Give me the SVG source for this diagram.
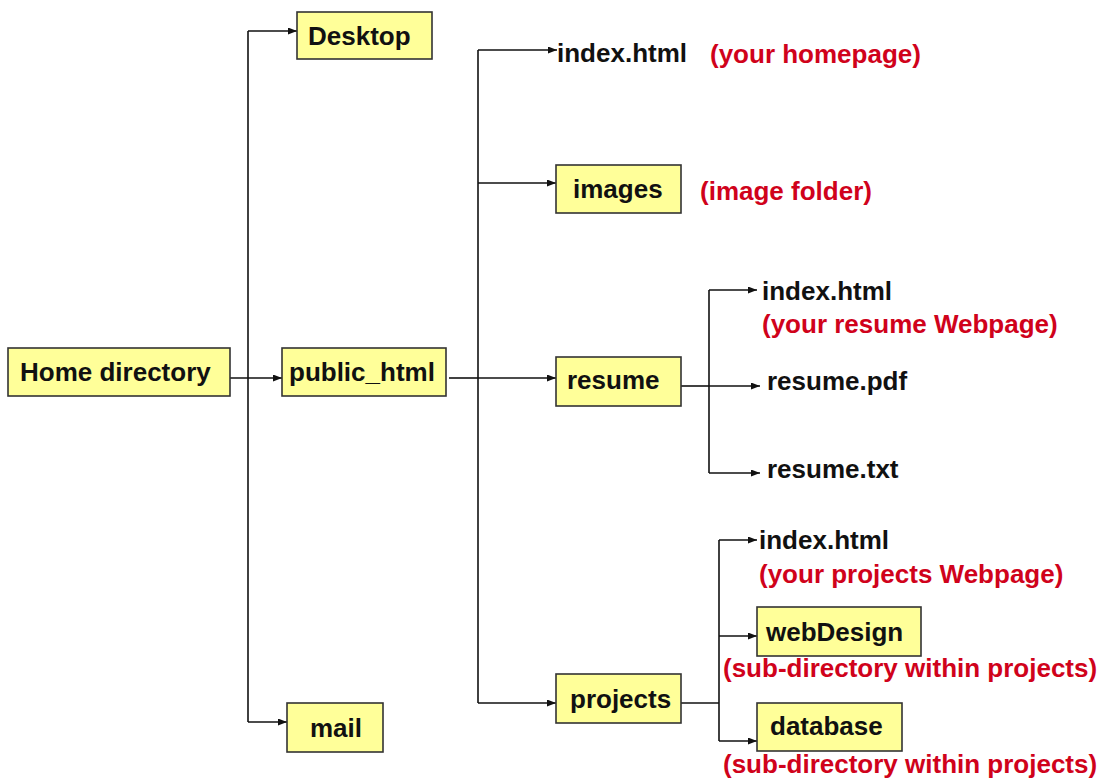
<svg xmlns="http://www.w3.org/2000/svg" width="1107" height="783" viewBox="0 0 1107 783">
<style>
.box{fill:#FFFF99;stroke:#333333;stroke-width:1.6}
.lbl{font-family:"Liberation Sans",Arial,sans-serif;font-size:26px;font-weight:bold;fill:#111111}
.red{font-family:"Liberation Sans",Arial,sans-serif;font-size:26px;font-weight:bold;fill:#D0021B}
.ln{fill:none;stroke:#111111;stroke-width:1.6}
.arr{fill:none;stroke:#111111;stroke-width:1.6;marker-end:url(#ah)}
</style>
<defs>
<marker id="ah" markerUnits="userSpaceOnUse" markerWidth="9" markerHeight="7" refX="9" refY="3.5" orient="auto">
<path d="M0,0 L9,3.5 L0,7 z" fill="#111111"/>
</marker>
</defs>
<rect width="1107" height="783" fill="#ffffff"/>
<g id="connectors">
<path class="ln" d="M248,31 V722"/>
<path class="arr" d="M248,31 H297"/>
<path class="arr" d="M248,722 H287"/>
<path class="arr" d="M230,378 H282"/>
<path class="ln" d="M449,378 H478"/>
<path class="ln" d="M478,50 V703"/>
<path class="arr" d="M478,50 H557"/>
<path class="arr" d="M478,183 H556"/>
<path class="arr" d="M478,378 H556"/>
<path class="arr" d="M478,703 H556"/>
<path class="ln" d="M681,386 H709"/>
<path class="ln" d="M709,290 V473"/>
<path class="arr" d="M709,290 H757"/>
<path class="arr" d="M709,386 H760"/>
<path class="arr" d="M709,473 H760"/>
<path class="ln" d="M681,703 H719"/>
<path class="ln" d="M719,540 V741"/>
<path class="arr" d="M719,540 H757"/>
<path class="arr" d="M719,636 H757"/>
<path class="arr" d="M719,741 H757"/>
</g>
<g id="home">
<rect class="box" x="8" y="348" width="222" height="48"/>
<text class="lbl" x="20" y="381">Home directory</text>
</g>
<g id="desktop">
<rect class="box" x="297" y="12" width="135" height="47"/>
<text class="lbl" x="308" y="45">Desktop</text>
</g>
<g id="public_html">
<rect class="box" x="282" y="348" width="164" height="48"/>
<text class="lbl" x="289" y="381">public_html</text>
</g>
<g id="mail">
<rect class="box" x="287" y="703" width="96" height="49"/>
<text class="lbl" x="310" y="737">mail</text>
</g>
<g id="index_home">
<text class="lbl" x="557" y="62">index.html</text>
<text class="red" x="710" y="63">(your homepage)</text>
</g>
<g id="images">
<rect class="box" x="556" y="165" width="125" height="48"/>
<text class="lbl" x="573" y="198">images</text>
<text class="red" x="700" y="200">(image folder)</text>
</g>
<g id="resume">
<rect class="box" x="556" y="357" width="125" height="49"/>
<text class="lbl" x="567" y="389">resume</text>
</g>
<g id="index_resume">
<text class="lbl" x="762" y="300">index.html</text>
<text class="red" x="762" y="333">(your resume Webpage)</text>
</g>
<g id="resume_pdf">
<text class="lbl" x="767" y="390">resume.pdf</text>
</g>
<g id="resume_txt">
<text class="lbl" x="767" y="478">resume.txt</text>
</g>
<g id="projects">
<rect class="box" x="556" y="674" width="125" height="49"/>
<text class="lbl" x="570" y="708">projects</text>
</g>
<g id="index_projects">
<text class="lbl" x="759" y="549">index.html</text>
<text class="red" x="759" y="583">(your projects Webpage)</text>
</g>
<g id="webDesign">
<rect class="box" x="757" y="607" width="164" height="49"/>
<text class="lbl" x="766" y="641">webDesign</text>
<text class="red" x="723" y="677">(sub-directory within projects)</text>
</g>
<g id="database">
<rect class="box" x="757" y="703" width="145" height="48"/>
<text class="lbl" x="770" y="735">database</text>
<text class="red" x="723" y="773">(sub-directory within projects)</text>
</g>
</svg>
